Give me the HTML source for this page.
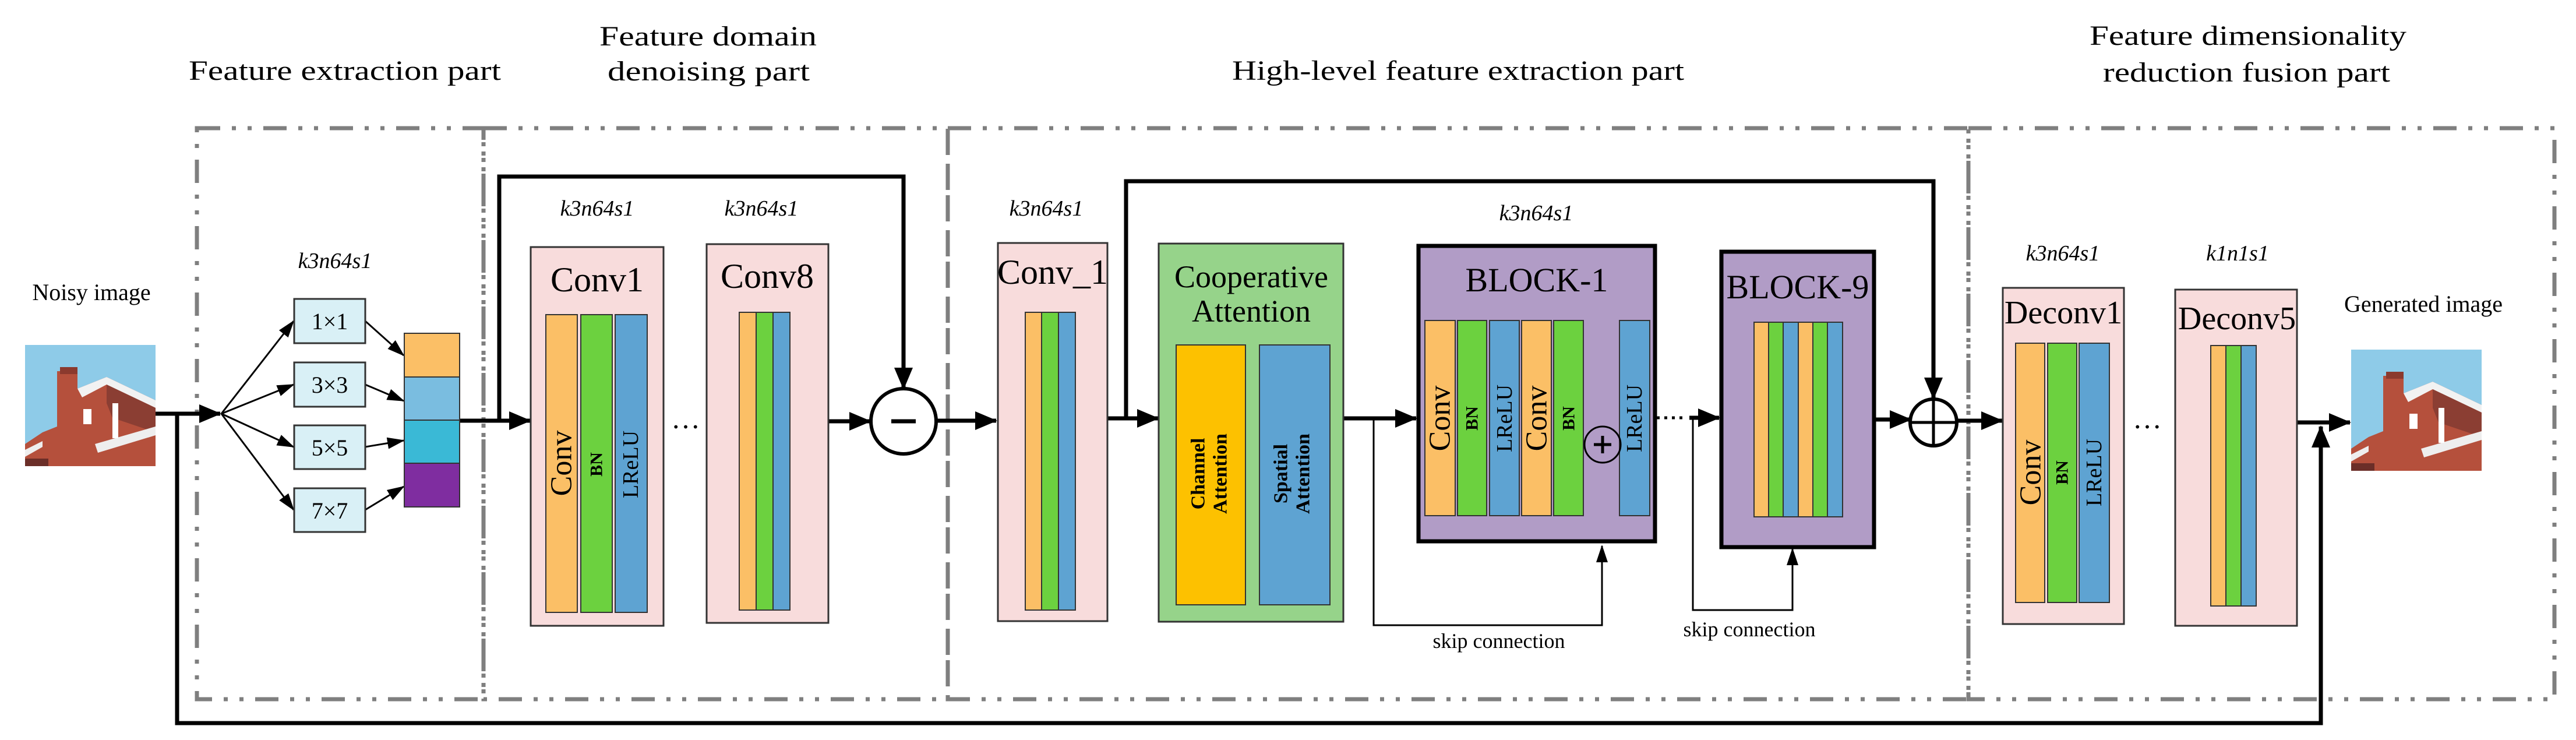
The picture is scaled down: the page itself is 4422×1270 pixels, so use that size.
<!DOCTYPE html>
<html><head><meta charset="utf-8"><style>
html,body{margin:0;padding:0;background:#fff;}
svg{display:block;font-family:"Liberation Serif",serif;}
svg text{font-family:"Liberation Serif",serif;fill:#000;}
</style></head><body>
<svg width="4422" height="1270" viewBox="0 0 4422 1270" xmlns="http://www.w3.org/2000/svg" font-family="Liberation Serif, serif">
<defs>
<marker id="ab" markerUnits="userSpaceOnUse" markerWidth="40" markerHeight="40" refX="36" refY="20" orient="auto"><path d="M0,4 L38,20 L0,36 Z" fill="#000"/></marker>
<marker id="as" markerUnits="userSpaceOnUse" markerWidth="30" markerHeight="30" refX="28" refY="15" orient="auto"><path d="M0,5 L30,15 L0,25 Z" fill="#000"/></marker>
<g id="house">
<rect x="0" y="0" width="224" height="208" fill="#8ecbe8"/>
<polygon points="55,45 90,45 90,75 140,55 224,95 224,208 0,208 0,170 30,150 55,140" fill="#b5503c"/>
<polygon points="90,75 140,55 224,95 224,108 140,68 98,90" fill="#f2f2f2"/>
<polygon points="140,68 224,108 224,150 150,125 140,100" fill="#8b3e33"/>
<polygon points="120,170 224,140 224,155 125,185" fill="#eeeeee"/>
<polygon points="0,180 30,165 30,175 0,192" fill="#eeeeee"/>
<rect x="100" y="110" width="14" height="26" fill="#fff"/>
<rect x="150" y="100" width="10" height="60" fill="#fff"/>
<rect x="60" y="38" width="30" height="12" fill="#8b3a2e"/>
<rect x="0" y="195" width="40" height="13" fill="#6b2e28"/>
</g>
</defs>

<!-- titles -->
<g font-family="Liberation Serif, serif">
<text x="324" y="137" font-size="48" textLength="536" lengthAdjust="spacingAndGlyphs">Feature extraction part</text>
<text x="1029" y="78" font-size="48" textLength="373" lengthAdjust="spacingAndGlyphs">Feature domain</text>
<text x="1043" y="138" font-size="48" textLength="347" lengthAdjust="spacingAndGlyphs">denoising part</text>
<text x="2115" y="137" font-size="48" textLength="776" lengthAdjust="spacingAndGlyphs">High-level feature extraction part</text>
<text x="3587" y="77" font-size="48" textLength="544" lengthAdjust="spacingAndGlyphs">Feature dimensionality</text>
<text x="3610" y="140" font-size="48" textLength="493" lengthAdjust="spacingAndGlyphs">reduction fusion part</text>
</g>

<!-- dashed boxes -->
<g fill="none" stroke="#7f7f7f" stroke-width="7" stroke-dasharray="40 20 7 20 7 20">
<rect x="338" y="220" width="492" height="980"/>
<rect x="830" y="220" width="797" height="980"/>
<rect x="1627" y="220" width="1752" height="980"/>
<rect x="3379" y="220" width="1006" height="980"/>
</g>

<g font-family="Liberation Serif, serif">
<text x="157" y="515" font-size="40" text-anchor="middle">Noisy image</text>
<text x="4160" y="535" font-size="40" text-anchor="middle">Generated image</text>
</g>
<use href="#house" x="43" y="592"/>
<use href="#house" x="4036" y="600"/>

<!-- thick lines -->
<g fill="none" stroke="#000" stroke-width="7">
<line x1="267" y1="710" x2="378" y2="710" marker-end="url(#ab)"/>
<polyline points="304,710 304,1241 3984,1241 3984,732" marker-end="url(#ab)"/>
<line x1="789" y1="722" x2="910" y2="722" marker-end="url(#ab)"/>
<polyline points="857,722 857,303 1551,303 1551,667" marker-end="url(#ab)"/>
<line x1="1422" y1="723" x2="1494" y2="723" marker-end="url(#ab)"/>
<line x1="1608" y1="722" x2="1710" y2="722" marker-end="url(#ab)"/>
<line x1="1901" y1="718" x2="1988" y2="718" marker-end="url(#ab)"/>
<polyline points="1933,718 1933,311 3319,311 3319,684" marker-end="url(#ab)"/>
<line x1="2306" y1="718" x2="2431" y2="718" marker-end="url(#ab)"/>
<line x1="2900" y1="717" x2="2951" y2="717" marker-end="url(#ab)"/>
<line x1="3220" y1="720" x2="3280" y2="720" marker-end="url(#ab)"/>
<line x1="3360" y1="722" x2="3437" y2="722" marker-end="url(#ab)"/>
<line x1="3943" y1="725" x2="4034" y2="725" marker-end="url(#ab)"/>
</g>
<line x1="2844" y1="717" x2="2895" y2="717" stroke="#000" stroke-width="5" stroke-dasharray="5 8"/>

<!-- thin lines -->
<g fill="none" stroke="#000" stroke-width="3">
<line x1="380" y1="710" x2="504" y2="551" marker-end="url(#as)"/>
<line x1="380" y1="710" x2="504" y2="660" marker-end="url(#as)"/>
<line x1="380" y1="710" x2="504" y2="767" marker-end="url(#as)"/>
<line x1="380" y1="710" x2="504" y2="875" marker-end="url(#as)"/>
<line x1="627" y1="551" x2="693" y2="610" marker-end="url(#as)"/>
<line x1="627" y1="660" x2="693" y2="688" marker-end="url(#as)"/>
<line x1="627" y1="767" x2="693" y2="756" marker-end="url(#as)"/>
<line x1="627" y1="875" x2="693" y2="835" marker-end="url(#as)"/>
<polyline points="2358,718 2358,1073 2750,1073 2750,937" marker-end="url(#as)"/>
<polyline points="2906,717 2906,1047 3077,1047 3077,942" marker-end="url(#as)"/>
</g>

<g font-family="Liberation Serif, serif">
<!-- kernel boxes -->
<text x="575" y="460" font-size="38" text-anchor="middle" font-style="italic">k3n64s1</text>
<g fill="#d9f0f6" stroke="#333" stroke-width="3">
<rect x="505" y="513" width="122" height="76"/>
<rect x="505" y="622" width="122" height="76"/>
<rect x="505" y="730" width="122" height="75"/>
<rect x="505" y="838" width="122" height="75"/>
</g>
<g font-size="40" text-anchor="middle">
<text x="566" y="565">1×1</text>
<text x="566" y="674">3×3</text>
<text x="566" y="782">5×5</text>
<text x="566" y="890">7×7</text>
</g>
<g stroke="#333" stroke-width="2">
<rect x="694" y="572" width="95" height="75" fill="#fbbf66"/>
<rect x="694" y="647" width="95" height="74" fill="#7abde0"/>
<rect x="694" y="721" width="95" height="74" fill="#3ab9d6"/>
<rect x="694" y="795" width="95" height="75" fill="#7f2da0"/>
</g>

<!-- Conv1 / Conv8 -->
<text x="1025" y="370" font-size="38" text-anchor="middle" font-style="italic">k3n64s1</text>
<text x="1307" y="370" font-size="38" text-anchor="middle" font-style="italic">k3n64s1</text>
<rect x="911" y="424" width="228" height="650" fill="#f8dcdc" stroke="#333" stroke-width="3"/>
<text x="1025" y="500" font-size="60" text-anchor="middle">Conv1</text>
<g stroke="#333" stroke-width="2">
<rect x="937" y="540" width="54" height="511" fill="#fbbf66"/>
<rect x="997" y="540" width="54" height="511" fill="#6cd13f"/>
<rect x="1056" y="540" width="55" height="511" fill="#5ea3d2"/>
</g>
<text transform="translate(964,795) rotate(-90)" font-size="52" text-anchor="middle" dominant-baseline="central">Conv</text>
<text transform="translate(1024,797) rotate(-90)" font-size="30" font-weight="bold" text-anchor="middle" dominant-baseline="central">BN</text>
<text transform="translate(1083,797) rotate(-90)" font-size="38" text-anchor="middle" dominant-baseline="central">LReLU</text>
<text x="1177" y="735" font-size="50" text-anchor="middle">…</text>
<rect x="1213" y="419" width="209" height="650" fill="#f8dcdc" stroke="#333" stroke-width="3"/>
<text x="1317" y="494" font-size="60" text-anchor="middle">Conv8</text>
<g stroke="#333" stroke-width="2">
<rect x="1269" y="536" width="29" height="511" fill="#fbbf66"/>
<rect x="1298" y="536" width="29" height="511" fill="#6cd13f"/>
<rect x="1327" y="536" width="29" height="511" fill="#5ea3d2"/>
</g>
<circle cx="1551" cy="723" r="56" fill="#fff" stroke="#000" stroke-width="6"/>
<line x1="1530" y1="723" x2="1572" y2="723" stroke="#000" stroke-width="7"/>

<!-- Conv_1 -->
<text x="1796" y="370" font-size="38" text-anchor="middle" font-style="italic">k3n64s1</text>
<rect x="1713" y="417" width="188" height="649" fill="#f8dcdc" stroke="#333" stroke-width="3"/>
<text x="1807" y="487" font-size="60" text-anchor="middle">Conv_1</text>
<g stroke="#333" stroke-width="2">
<rect x="1760" y="536" width="28" height="511" fill="#fbbf66"/>
<rect x="1788" y="536" width="29" height="511" fill="#6cd13f"/>
<rect x="1817" y="536" width="29" height="511" fill="#5ea3d2"/>
</g>

<!-- Cooperative Attention -->
<rect x="1989" y="418" width="317" height="649" fill="#96d38a" stroke="#333" stroke-width="3"/>
<text x="2148" y="493" font-size="54" text-anchor="middle">Cooperative</text>
<text x="2148" y="552" font-size="54" text-anchor="middle">Attention</text>
<rect x="2019" y="592" width="119" height="446" fill="#fdc100" stroke="#333" stroke-width="2"/>
<rect x="2162" y="592" width="121" height="446" fill="#5ea3d2" stroke="#333" stroke-width="2"/>
<g font-size="34" font-weight="bold" text-anchor="middle" dominant-baseline="central">
<text transform="translate(2057,813) rotate(-90)">Channel</text>
<text transform="translate(2095,813) rotate(-90)">Attention</text>
<text transform="translate(2199,813) rotate(-90)">Spatial</text>
<text transform="translate(2237,813) rotate(-90)">Attention</text>
</g>

<!-- BLOCK-1 -->
<text x="2637" y="378" font-size="38" text-anchor="middle" font-style="italic">k3n64s1</text>
<rect x="2435" y="422" width="406" height="507" fill="#b19cc6" stroke="#000" stroke-width="7"/>
<text x="2638" y="500" font-size="58" text-anchor="middle">BLOCK-1</text>
<g stroke="#333" stroke-width="2">
<rect x="2446" y="550" width="52" height="335" fill="#fbbf66"/>
<rect x="2502" y="550" width="50" height="335" fill="#6cd13f"/>
<rect x="2557" y="550" width="51" height="335" fill="#5ea3d2"/>
<rect x="2612" y="550" width="51" height="335" fill="#fbbf66"/>
<rect x="2667" y="550" width="51" height="335" fill="#6cd13f"/>
<rect x="2780" y="550" width="52" height="335" fill="#5ea3d2"/>
</g>
<text transform="translate(2472,718) rotate(-90)" font-size="52" text-anchor="middle" dominant-baseline="central">Conv</text>
<text transform="translate(2527,718) rotate(-90)" font-size="30" font-weight="bold" text-anchor="middle" dominant-baseline="central">BN</text>
<text transform="translate(2583,718) rotate(-90)" font-size="38" text-anchor="middle" dominant-baseline="central">LReLU</text>
<text transform="translate(2638,718) rotate(-90)" font-size="52" text-anchor="middle" dominant-baseline="central">Conv</text>
<text transform="translate(2693,718) rotate(-90)" font-size="30" font-weight="bold" text-anchor="middle" dominant-baseline="central">BN</text>
<text transform="translate(2806,718) rotate(-90)" font-size="38" text-anchor="middle" dominant-baseline="central">LReLU</text>
<circle cx="2751" cy="763" r="31" fill="none" stroke="#000" stroke-width="3"/>
<line x1="2736" y1="763" x2="2766" y2="763" stroke="#000" stroke-width="5"/>
<line x1="2751" y1="748" x2="2751" y2="778" stroke="#000" stroke-width="5"/>
<text x="2573" y="1112" font-size="36" text-anchor="middle">skip connection</text>

<!-- BLOCK-9 -->
<rect x="2955" y="432" width="262" height="507" fill="#b19cc6" stroke="#000" stroke-width="7"/>
<text x="3086" y="512" font-size="58" text-anchor="middle">BLOCK-9</text>
<g stroke="#333" stroke-width="2">
<rect x="3011" y="553" width="25" height="334" fill="#fbbf66"/>
<rect x="3036" y="553" width="25" height="334" fill="#6cd13f"/>
<rect x="3061" y="553" width="26" height="334" fill="#5ea3d2"/>
<rect x="3087" y="553" width="25" height="334" fill="#fbbf66"/>
<rect x="3112" y="553" width="25" height="334" fill="#6cd13f"/>
<rect x="3137" y="553" width="26" height="334" fill="#5ea3d2"/>
</g>
<text x="3003" y="1092" font-size="36" text-anchor="middle">skip connection</text>
<circle cx="3319" cy="725" r="40" fill="#fff" stroke="#000" stroke-width="6"/>
<line x1="3279" y1="725" x2="3359" y2="725" stroke="#000" stroke-width="5"/>
<line x1="3319" y1="685" x2="3319" y2="765" stroke="#000" stroke-width="5"/>

<!-- Deconv -->
<text x="3541" y="447" font-size="38" text-anchor="middle" font-style="italic">k3n64s1</text>
<text x="3841" y="447" font-size="38" text-anchor="middle" font-style="italic">k1n1s1</text>
<rect x="3438" y="494" width="208" height="577" fill="#f8dcdc" stroke="#333" stroke-width="3"/>
<text x="3542" y="555" font-size="56" text-anchor="middle">Deconv1</text>
<g stroke="#333" stroke-width="2">
<rect x="3460" y="589" width="50" height="445" fill="#fbbf66"/>
<rect x="3515" y="589" width="50" height="445" fill="#6cd13f"/>
<rect x="3569" y="589" width="52" height="445" fill="#5ea3d2"/>
</g>
<text transform="translate(3486,811) rotate(-90)" font-size="52" text-anchor="middle" dominant-baseline="central">Conv</text>
<text transform="translate(3540,811) rotate(-90)" font-size="30" font-weight="bold" text-anchor="middle" dominant-baseline="central">BN</text>
<text transform="translate(3595,811) rotate(-90)" font-size="38" text-anchor="middle" dominant-baseline="central">LReLU</text>
<text x="3686" y="735" font-size="50" text-anchor="middle">…</text>
<rect x="3734" y="497" width="209" height="577" fill="#f8dcdc" stroke="#333" stroke-width="3"/>
<text x="3840" y="565" font-size="56" text-anchor="middle">Deconv5</text>
<g stroke="#333" stroke-width="2">
<rect x="3795" y="593" width="26" height="447" fill="#fbbf66"/>
<rect x="3821" y="593" width="26" height="447" fill="#6cd13f"/>
<rect x="3847" y="593" width="26" height="447" fill="#5ea3d2"/>
</g>
</g>
</svg>
</body></html>
